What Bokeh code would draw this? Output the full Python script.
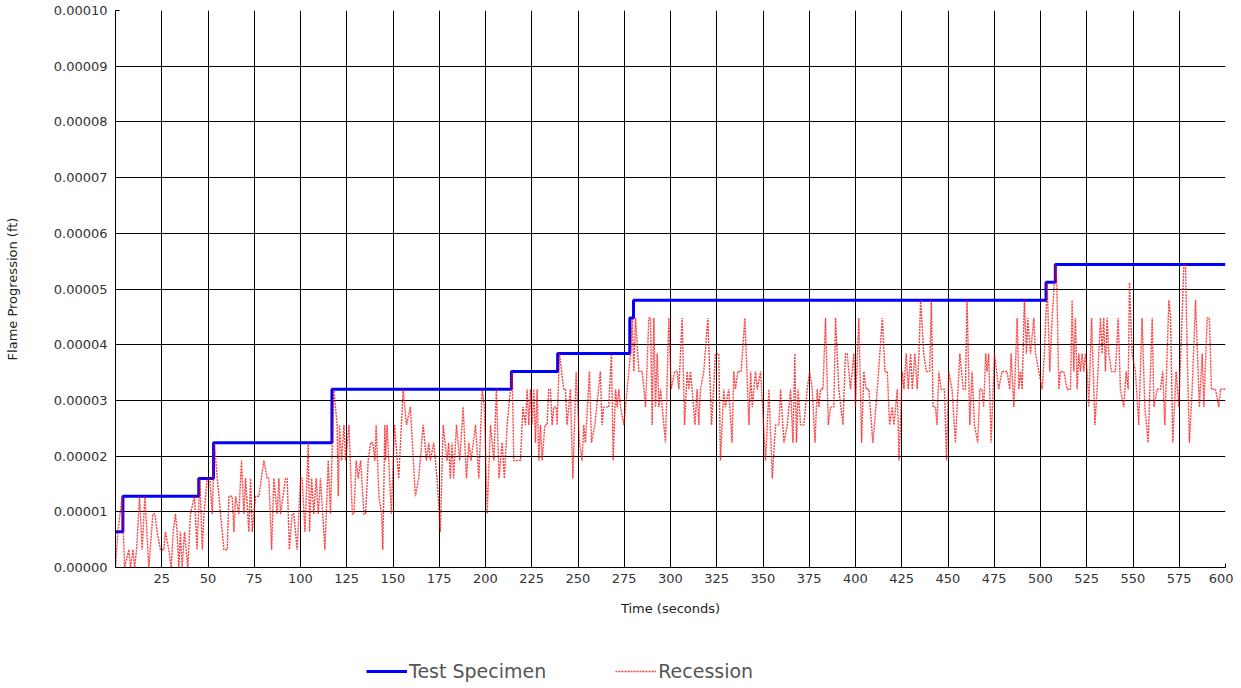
from bokeh.plotting import figure
from bokeh.layouts import column
from bokeh.models import FixedTicker, PrintfTickFormatter, Legend, LegendItem, Range1d
from bokeh.embed import file_html
from bokeh.resources import INLINE

# Quantization step of the measurement (ft per count)
RESOLUTION_FT = 3.2e-6

# Test Specimen: step changes (time s, level in counts)
blue_t = [0, 4, 45, 53, 117, 214, 239, 278, 280, 503, 508, 600]
blue_k = [2, 4, 5, 7, 10, 11, 12, 14, 15, 16, 17, 17]

# Recession: (time s, level in counts)
red_t = [0, 1.3, 3.6, 4.9, 7.2, 8.1, 9.5, 10.3, 11.4, 13, 14.4, 15.9, 18, 20.2, 21.3, 22.5, 24.3, 26.1, 27, 28.8,
         30.1, 31.2, 32.4, 33.3, 34.2, 35.1, 36, 37.3, 39.1, 40.5, 42.7, 44.1, 45.6, 46.9, 47.8, 49.6, 51, 52.3,
         53.5, 55, 56.8, 58.6, 60.4, 61.3, 63.1, 64, 64.9, 66.7, 68.1, 69.4,
         70.3, 72.1, 73, 73.9, 75.7, 77.5, 80.2, 82, 82.9, 84.4, 85.6, 87.4, 88.3, 89.2, 91.9, 92.8, 94, 95.5,
         96.4, 98.2, 100, 100.9, 102.4, 104.2, 104.9, 106, 107.2, 108.5, 109.6, 110.8, 113.2, 115, 116.2, 118,
         119.8, 120.4, 121.1, 122.2, 123.5, 124.4, 126.2, 128, 128.9, 130.1, 131.2, 132.5, 134.3, 135.2, 136.6,
         137.9, 139.1, 140.2, 140.9, 142.4, 143.8, 144.5, 145.6,
         145.9, 146.8, 147.7, 149.1, 150.8, 153.1, 155.5, 157.3, 159.4, 162.1, 163.9, 166.3, 168.1, 169.3, 170.2,
         172, 172.9, 173.8, 175.6, 177.1, 179.2, 180.1, 181, 181.9, 182.8, 184.3, 186.1, 187.9, 189.7, 191, 192.2,
         194.6, 196.4, 198.2, 199.4, 200.9, 202.7, 204.5, 205.9, 207.3, 209, 210.2, 211.7, 214.4, 215.3,
         216.2, 218.9, 220.2, 221.6, 222.5, 223.4, 224.3, 225.2, 226.1, 227, 227.9, 228.8, 229.7, 230.6, 232.1,
         233.3, 234.2, 235.1, 236, 236.9, 238.2, 238.7, 240, 242.3, 243.2, 244.1, 245.9, 247.2, 249, 250.8, 252.2,
         253.1, 254, 256.2, 257.3, 259.1, 262.1, 263, 263.9, 266.6, 268.1, 269, 270.3, 271.2, 272.1, 273, 274.8,
         276.6, 278.4, 279.3, 280.2, 281.1, 282.9, 284.7, 286.5, 288.3,
         289.2, 290.1, 291, 291.9, 292.8, 293.7, 294.6, 295.5, 297.3, 299.1, 300.4, 302.2, 303.6, 304.5, 306.3,
         307.6, 309, 309.9, 310.8, 311.7, 313.2, 314.4, 315.3, 316.2, 318, 320.2, 322.2, 324.3, 326.1, 327, 328.8,
         329.7, 331.5, 333.3, 334.2, 335.1, 336.4, 338.2, 340.2, 342.4, 343.3, 344.2, 346, 346.9, 348.7, 351.4,
         353.2, 355, 356.8, 358.6, 359.5, 361.3,
         363.1, 364, 364.9, 366.2, 367.2, 368.1, 369, 370.3, 372.1, 373.9, 375.2, 376.6, 378.1, 379.3, 380.2,
         381.1, 382.4, 383.8, 385.3, 386.5, 388.3, 389.2, 391, 393.2, 394.6, 395.5, 397.3, 399.1, 400, 401.8,
         403.3, 404.5, 405.8, 407.2, 409.4, 411.8, 414.5, 415.9, 417.2, 418.4, 419.9, 420.8, 422.6, 423.5, 425.3,
         426.2, 427.4, 428.5, 429.8, 430.7, 432.1, 433.4, 434.3, 435.2,
         436.9, 438.3, 440.1, 441, 441.9, 443.2, 444.1, 445, 446.3, 448.1, 449.2, 450.4, 452.2, 454, 456.4, 458.2,
         459.4, 460.3, 461.8, 463, 464.3, 466.1, 467.2, 468.4, 469.3, 470.4, 471.1, 472, 473.3, 475.1, 477.4,
         479.2, 481.9, 483.4, 484.1, 485.6, 487.4, 488.3, 489.2, 490.1, 491.3, 492.4, 493.1, 494.6, 496.4, 497.3,
         499.1, 500.9, 502.1, 503.6, 505, 506.3, 508.1,
         508.8, 509.9, 510.8, 512.6, 514.4, 516.2, 517.1, 518, 518.9, 519.8, 520.7, 521.6, 522.5, 523.4, 524.3,
         525.2, 526.1, 527.6, 529.4, 530.6, 532.4, 533.3, 534.2, 535.1, 536, 536.9, 538.4, 540.5, 542, 543.2, 545,
         546.3, 547.4, 548.1, 549.5, 551.3, 553.1, 554.9, 556.4, 558.2, 560.4, 561.3, 563.1, 564.9, 566.1, 567.2,
         569.4, 570.3, 571.5, 573.3, 574.8, 577.5, 578.4, 579.3, 580.5, 582, 583.8, 585.9, 587.4, 588.3, 590.1,
         591.3, 592.4, 594.6, 596.4, 597.3, 600]
red_k = [0, 2, 4, 0, 1, 0, 1, 0, 1, 4, 1, 4, 0, 3, 3, 2, 1, 1, 2, 1,
         0, 2, 3, 2, 0, 2, 0, 2, 0, 3, 4, 1, 5, 1, 3, 5, 5, 3,
         7, 5, 3, 1, 1, 4, 4, 2, 4, 3, 6, 3,
         5, 2, 5, 2, 4, 4, 6, 5, 5, 1, 5, 3, 5, 3, 5, 5, 1, 3,
         3, 1, 5, 5, 2, 7, 2, 5, 3, 5, 3, 5, 1, 6, 3, 10,
         8, 4, 8, 6, 8, 6, 8, 3, 3, 6, 5, 6, 3, 3, 6,
         7, 7, 6, 8, 4, 3, 1, 8,
         6, 8, 6, 3, 8, 5, 10, 8, 9, 4, 5, 8, 6, 7, 6,
         7, 6, 5, 2, 8, 6, 7, 5, 7, 5, 8, 6, 9, 5, 7, 6,
         8, 5, 10, 9, 3, 8, 6, 10, 5, 7, 5, 8, 11, 6,
         6, 6, 9, 8, 10, 8, 10, 8, 10, 7, 10, 6, 8, 6, 8,
         8, 10, 10, 8, 9, 9, 8, 12, 10, 10, 8, 10, 5, 11, 7, 6,
         8, 7, 11, 7, 8, 11, 8, 9, 9, 12, 6, 10, 9, 10, 9, 8,
         10, 12, 14, 11, 14, 11, 11, 9, 14,
         14, 8, 14, 9, 12, 9, 10, 9, 7, 14, 10, 11, 11, 10, 14,
         8, 11, 10, 11, 10, 8, 10, 8, 10, 11, 14, 8, 12, 12, 6, 10,
         9, 10, 7, 11, 10, 11, 11, 14, 8, 11, 9, 11, 10, 11, 6,
         10, 5, 8, 8, 10, 7,
         8, 9, 10, 7, 12, 7, 10, 8, 8, 10, 11, 10, 7, 10, 9,
         10, 10, 14, 8, 9, 9, 14, 10, 8, 12, 12, 10, 12, 9, 14,
         7, 11, 10, 10, 7, 10, 14, 11, 11, 8, 9, 8, 10, 6, 11,
         10, 12, 10, 12, 10, 12, 10, 12, 15,
         12, 11, 11, 15, 9, 9, 8, 11, 10, 10, 6, 11, 10, 7, 12, 10,
         10, 15, 8, 11, 8, 7, 10, 10, 9, 12, 11, 12, 7, 12, 10,
         11, 11, 10, 12, 9, 14, 10, 11, 10, 15, 12, 14, 12, 14, 12,
         11, 10, 12, 16, 11, 14, 17,
         16, 10, 11, 11, 10, 10, 15, 11, 14, 10, 12, 11, 12, 11, 12,
         11, 9, 14, 8, 10, 14, 12, 14, 11, 14, 12, 11, 11, 14, 10, 9,
         11, 10, 16, 12, 11, 8, 14, 9, 7, 14, 9, 10, 10, 11, 8,
         15, 14, 7, 11, 9, 17, 17, 12, 7, 10, 15, 9, 12, 9, 14,
         14, 10, 10, 9, 10, 10]

x_ticks = list(range(25, 601, 25))
x_grid = list(range(0, 601, 25))
y_ticks = [0, 0.00001, 0.00002, 0.00003, 0.00004, 0.00005, 0.00006, 0.00007, 0.00008, 0.00009, 0.0001]
series_names = ["Test Specimen", "Recession"]

blue_v = [k * RESOLUTION_FT for k in blue_k]
red_v = [k * RESOLUTION_FT for k in red_k]

FONT = "DejaVu Sans"
BLUE = "#0000FF"
RED = "#FF0000"

p = figure(width=1233, height=620, output_backend="svg", toolbar_location=None,
           x_range=Range1d(0, 600), y_range=Range1d(0, 0.0001),
           min_border_left=115, min_border_right=8, min_border_top=10, min_border_bottom=53,
           background_fill_color="white", border_fill_color="white")
p.outline_line_color = None

p.xaxis.ticker = FixedTicker(ticks=x_ticks)
p.yaxis.ticker = FixedTicker(ticks=y_ticks)
p.yaxis.formatter = PrintfTickFormatter(format="%.5f")
p.xgrid.ticker = FixedTicker(ticks=x_grid)
p.ygrid.ticker = FixedTicker(ticks=y_ticks)
p.grid.grid_line_color = "black"
p.grid.grid_line_width = 1
p.grid.grid_line_alpha = 1

p.axis.axis_line_color = "black"
p.axis.major_tick_in = 4
p.axis.major_tick_out = 0
p.axis.minor_tick_line_color = None
p.axis.major_label_text_font = FONT
p.axis.major_label_text_font_size = "13px"
p.axis.major_label_text_color = "#333333"
p.axis.axis_label_text_font = FONT
p.axis.axis_label_text_font_size = "13px"
p.axis.axis_label_text_font_style = "normal"
p.axis.axis_label_text_color = "#222222"
p.xaxis.axis_label = "Time (seconds)"
p.yaxis.axis_label = "Flame Progression (ft)"
p.xaxis.major_label_standoff = 6
p.xaxis.axis_label_standoff = 15
p.yaxis.major_label_standoff = 8
p.yaxis.axis_label_standoff = 31

p.step(blue_t, blue_v, mode="after", line_color=BLUE, line_width=3)
p.line(red_t, red_v, line_color=RED, line_width=1.4, line_dash="2 1", line_alpha=0.75)

# Legend strip below the chart
lf = figure(width=1233, height=64, output_backend="svg", toolbar_location=None,
            x_range=Range1d(0, 1), y_range=Range1d(0, 1),
            min_border_left=0, min_border_right=0, min_border_top=0, min_border_bottom=0,
            background_fill_color="white", border_fill_color="white")
lf.axis.visible = False
lf.grid.visible = False
lf.outline_line_color = None
lb = lf.line([5, 6], [5, 6], line_color=BLUE, line_width=3)
lr = lf.line([5, 6], [5, 6], line_color=RED, line_width=1.4, line_dash="2 1", line_alpha=0.75)
legend = Legend(items=[LegendItem(label=series_names[0], renderers=[lb]),
                       LegendItem(label=series_names[1], renderers=[lr])],
                orientation="horizontal", location=(251, 2),
                glyph_width=41, glyph_height=20, label_height=20, label_standoff=2, spacing=69,
                padding=0, margin=0, border_line_color=None, background_fill_alpha=0,
                label_text_font=FONT, label_text_font_size="19px", label_text_color="#555555")
lf.add_layout(legend)

layout = column(p, lf, spacing=0)
open("out.html", "w").write(file_html(layout, INLINE))
